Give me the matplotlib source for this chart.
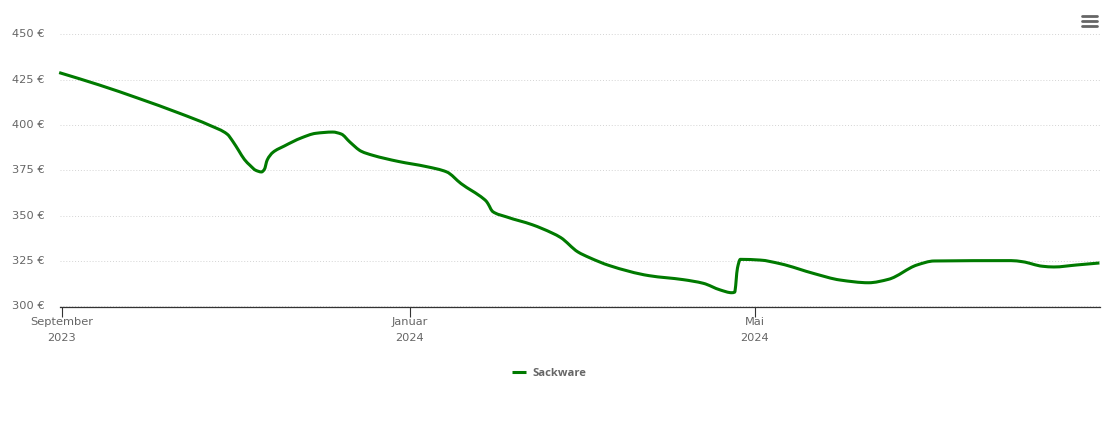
"""Preisverlauf Sackware, Sep 2023 bis Aug 2024."""
import matplotlib
matplotlib.use("Agg")
import matplotlib.dates as mdates
import matplotlib.pyplot as plt
import numpy as np
import pandas as pd
from matplotlib.lines import Line2D
from matplotlib.patches import PathPatch
from matplotlib.path import Path
from matplotlib.transforms import ScaledTranslation

dates = [
    "2023-08-31", "2023-09-14", "2023-09-28", "2023-10-12", "2023-10-23", "2023-10-29",
    "2023-10-31", "2023-11-02", "2023-11-04", "2023-11-06", "2023-11-08", "2023-11-10",
    "2023-11-11", "2023-11-12", "2023-11-14", "2023-11-18", "2023-11-24", "2023-11-29",
    "2023-12-05", "2023-12-08", "2023-12-11", "2023-12-15", "2023-12-19", "2023-12-28",
    "2024-01-07", "2024-01-14", "2024-01-19", "2024-01-27", "2024-01-28", "2024-01-29",
    "2024-01-30", "2024-02-04", "2024-02-13", "2024-02-20", "2024-02-23", "2024-02-29",
    "2024-03-04", "2024-03-11", "2024-03-25", "2024-04-06", "2024-04-13", "2024-04-19",
    "2024-04-23", "2024-04-24", "2024-04-25", "2024-04-26", "2024-05-03", "2024-05-10",
    "2024-05-22", "2024-05-31", "2024-06-10", "2024-06-17", "2024-06-27", "2024-07-03",
    "2024-07-30", "2024-08-03", "2024-08-10", "2024-08-14", "2024-08-22", "2024-08-30",
]
prices = [
    429.0, 422.2, 414.7, 406.7, 399.8, 395.0,
    390.9, 386.0, 381.1, 377.8, 375.1, 374.2,
    375.6, 380.8, 385.0, 388.5, 393.0, 395.5,
    396.2, 395.1, 390.7, 385.6, 383.4, 380.0,
    377.1, 374.2, 367.8, 359.3, 357.8, 355.2,
    352.5, 349.4, 345.1, 340.5, 338.0, 330.1,
    327.0, 322.6, 317.0, 314.8, 312.8, 309.1,
    307.6, 307.9, 321.2, 326.0, 325.6, 323.6,
    318.1, 314.6, 313.1, 315.0, 322.9, 325.1,
    325.3, 324.7, 322.2, 321.8, 322.9, 324.0,
]
y_ticks = [300, 325, 350, 375, 400, 425, 450]
x_ticks = ["2023-09-01", "2024-01-01", "2024-05-01"]
x_labels = ["September\n2023", "Januar\n2024", "Mai\n2024"]
series_name = "Sackware"

W, H = 1110, 423
GREEN = "#007a00"
TEXT = "#666666"
LW = 2.2


def spline_path(xs, ys):
    """Monotone kubische Kurve durch die Punkte, wie die Spline-Linie im Original."""
    dx = np.diff(xs)
    slope = np.diff(ys) / dx
    tang = np.zeros(len(xs))
    tang[0], tang[-1] = slope[0], slope[-1]
    for i in range(1, len(xs) - 1):
        if slope[i - 1] * slope[i] > 0:
            w1 = 2 * dx[i] + dx[i - 1]
            w2 = dx[i] + 2 * dx[i - 1]
            tang[i] = (w1 + w2) / (w1 / slope[i - 1] + w2 / slope[i])
    verts = [(xs[0], ys[0])]
    codes = [Path.MOVETO]
    for i in range(len(xs) - 1):
        h = dx[i] / 3
        verts += [(xs[i] + h, ys[i] + tang[i] * h),
                  (xs[i + 1] - h, ys[i + 1] - tang[i + 1] * h),
                  (xs[i + 1], ys[i + 1])]
        codes += [Path.CURVE4] * 3
    return Path(verts, codes)


plt.rcParams["font.family"] = ["DejaVu Sans"]

fig = plt.figure(figsize=(W / 100, H / 100), dpi=100, facecolor="white")
ax = fig.add_axes([60 / W, 1 - 306.5 / H, 1040 / W, 272 / H])

x = mdates.date2num(pd.to_datetime(dates))
ax.add_patch(PathPatch(spline_path(x, np.array(prices)), fc="none", ec=GREEN, lw=LW,
                       joinstyle="round", capstyle="butt", clip_on=False, zorder=3))

start = pd.Timestamp("2023-09-01")
ax.set_xlim(start - pd.Timedelta(days=0.7), start + pd.Timedelta(days=364.2))
ax.set_ylim(300, 450)

ax.set_yticks(y_ticks)
ax.set_yticklabels([f"{v} €" for v in y_ticks])
ax.set_xticks(pd.to_datetime(x_ticks))
ax.set_xticklabels(x_labels, linespacing=1.8)

ax.tick_params(axis="y", length=0, pad=11, labelsize=8.2, labelcolor=TEXT)
ax.tick_params(axis="x", length=7.2, width=0.8, color="#333333", pad=0, labelsize=8.2, labelcolor=TEXT)
ax.grid(axis="y", color="#d4d4d4", lw=0.7, ls=(0, (1, 2)))
ax.set_axisbelow(True)

# Beschriftung der y-Achse sitzt im Original gut 1 px hoeher
shift = ScaledTranslation(0, 1.2 / 100, fig.dpi_scale_trans)
for label in ax.get_yticklabels():
    label.set_transform(label.get_transform() + shift)

for side in ("top", "left", "right"):
    ax.spines[side].set_visible(False)
ax.spines["bottom"].set_color("#333333")
ax.spines["bottom"].set_linewidth(0.9)

handle = Line2D([], [], color=GREEN, lw=LW, solid_capstyle="butt")
leg = fig.legend([handle], [series_name], loc="center", bbox_to_anchor=(549 / W, 1 - 373.5 / H),
                 frameon=False, handlelength=1.3, handletextpad=0.55,
                 prop={"family": ["Open Sans", "DejaVu Sans"], "size": 8.1, "weight": "bold"})
for t in leg.get_texts():
    t.set_color(TEXT)

# Menü-Symbol oben rechts
for y_px in (16, 21, 26):
    fig.add_artist(Line2D([1082 / W, 1096.5 / W], [1 - y_px / H] * 2, color="#666666", lw=2,
                          solid_capstyle="round"))

fig.savefig("out.png", dpi=100)
